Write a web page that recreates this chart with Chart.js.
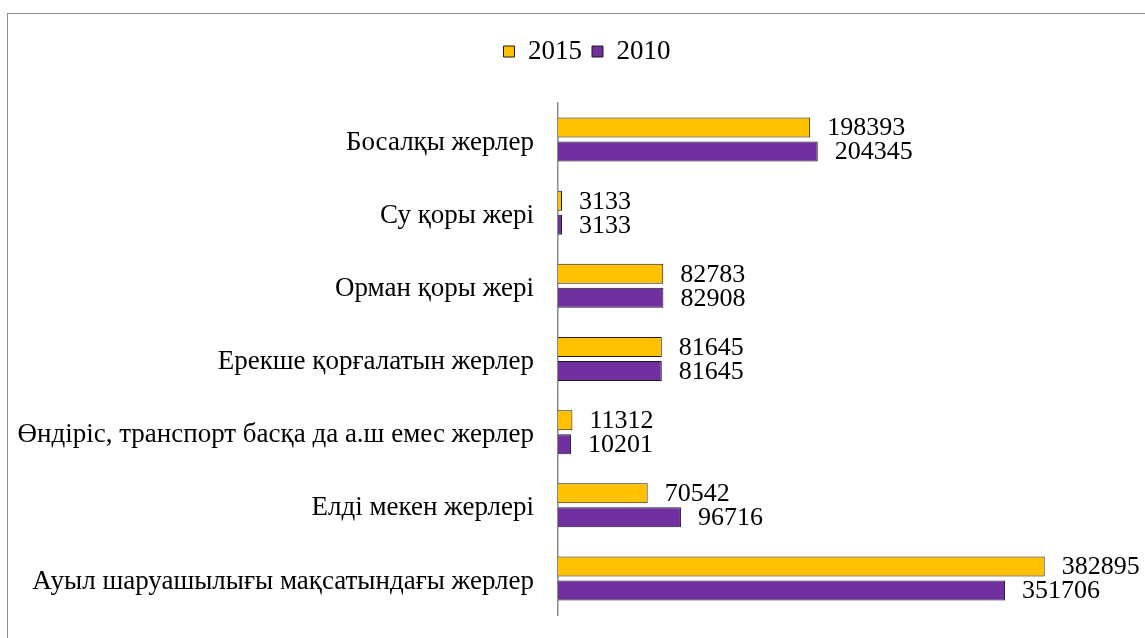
<!DOCTYPE html>
<html>
<head>
<meta charset="utf-8">
<script src="https://cdn.jsdelivr.net/npm/chart.js@4.4.1/dist/chart.umd.min.js"></script>
<style>
  html, body { margin: 0; padding: 0; background: #fff; }
  #wrap { position: relative; width: 1145px; height: 638px; overflow: hidden; }
  #frame {
    position: absolute; left: 7px; top: 13px; width: 1200px; height: 700px;
    border: 1px solid #8c8c8c; box-sizing: border-box; pointer-events: none;
  }
  canvas { position: absolute; left: 0; top: 0; }
</style>
</head>
<body>
<div id="wrap">
  <canvas id="landChart" width="1145" height="638"></canvas>
  <div id="frame"></div>
</div>
<script>
"use strict";

const CATEGORIES = [
  "Босалқы жерлер",
  "Су қоры жері",
  "Орман қоры жері",
  "Ерекше қорғалатын жерлер",
  "Өндіріс, транспорт басқа да а.ш емес жерлер",
  "Елді мекен жерлері",
  "Ауыл шаруашылығы мақсатындағы жерлер",
];
const VALUES_2015 = [198393, 3133, 82783, 81645, 11312, 70542, 382895];
const VALUES_2010 = [204345, 3133, 82908, 81645, 10201, 96716, 351706];
const SERIES_LABELS = ["2015", "2010"];

const FONT = "'Liberation Serif', 'Times New Roman', serif";

// writes each bar's value just past its end
const barValueLabels = {
  id: "barValueLabels",
  afterDatasetsDraw(chart) {
    const ctx = chart.ctx;
    ctx.save();
    ctx.font = `26px ${FONT}`;
    ctx.fillStyle = "#000";
    ctx.textAlign = "left";
    ctx.textBaseline = "middle";
    chart.data.datasets.forEach((ds, i) => {
      chart.getDatasetMeta(i).data.forEach((bar, j) => {
        ctx.fillText(String(ds.data[j]), bar.x + 17, bar.y + 1);
      });
    });
    ctx.restore();
  },
};

// more room under the legend, and the legend nudged right over the bars
const legendSpacing = {
  id: "legendSpacing",
  afterInit(chart) {
    const legend = chart.legend;
    if (!legend) return;
    const fit = legend.fit;
    legend.fit = function () {
      fit.call(this);
      this.height = 75;
    };
    const draw = legend.draw;
    legend.draw = function () {
      this.ctx.save();
      this.ctx.translate(22, 0);
      draw.call(this);
      this.ctx.restore();
    };
  },
};

new Chart(document.getElementById("landChart"), {
  type: "bar",
  data: {
    labels: CATEGORIES,
    datasets: [
      {
        label: SERIES_LABELS[0],
        data: VALUES_2015,
        backgroundColor: "#FFC000",
        borderColor: "#1a1a1a",
        borderWidth: 1,
      },
      {
        label: SERIES_LABELS[1],
        data: VALUES_2010,
        backgroundColor: "#7030A0",
        borderColor: "#1a1a1a",
        borderWidth: 1,
      },
    ],
  },
  options: {
    indexAxis: "y",
    responsive: false,
    animation: false,
    datasets: { bar: { categoryPercentage: 0.656, barPercentage: 0.833 } },
    layout: { padding: { left: 0, right: 15, top: 28, bottom: 23 } },
    scales: {
      x: {
        display: false,
        min: 0,
        max: 450000,
      },
      y: {
        grid: { display: false },
        border: { display: true, color: "#8c8c8c", width: 1.5 },
        ticks: {
          color: "#000",
          padding: 16,
          labelOffset: 3,
          font: { family: FONT, size: 27 },
        },
        afterFit(scale) {
          scale.width = 558;
          scale.paddingTop = 0;
          scale.paddingBottom = 0;
        },
      },
    },
    plugins: {
      legend: {
        position: "top",
        labels: {
          color: "#000",
          boxWidth: 11,
          boxHeight: 11,
          padding: 10,
          font: { family: FONT, size: 27 },
        },
      },
      tooltip: { enabled: false },
    },
  },
  plugins: [barValueLabels, legendSpacing],
});
</script>
</body>
</html>
